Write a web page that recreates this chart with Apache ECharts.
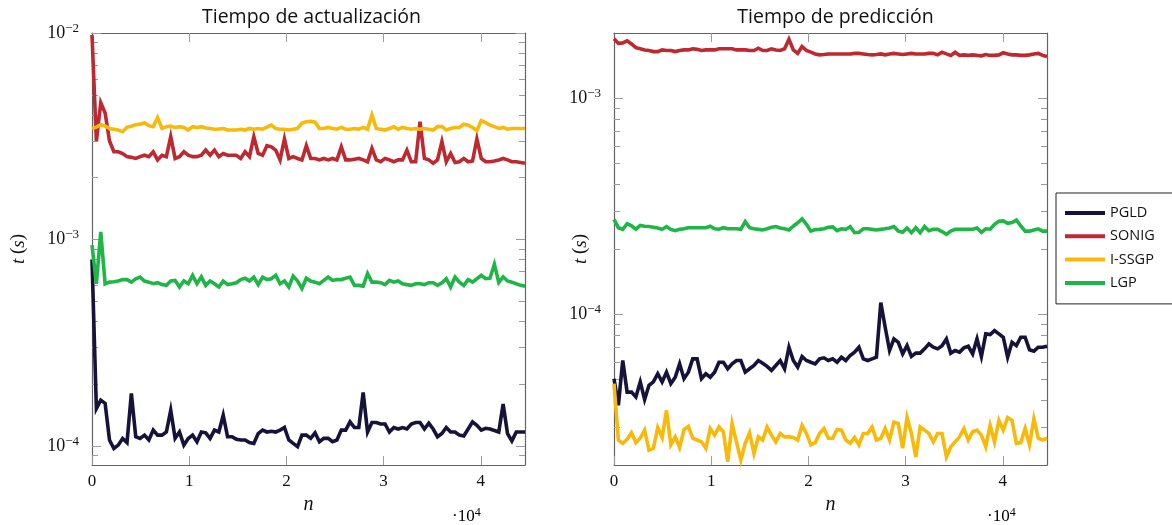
<!DOCTYPE html>
<html>
<head>
<meta charset="utf-8">
<title>Tiempos PGLD / SONIG / I-SSGP / LGP</title>
<script src="https://cdn.jsdelivr.net/npm/echarts@6/dist/echarts.min.js"></script>
<style>
  html, body { margin: 0; padding: 0; background: #ffffff; }
  #chart { width: 1172px; height: 525px; }
</style>
</head>
<body>
<div id="chart"></div>
<script>
// Samples are measured every N_STEP points; the axis ends at the last sample.
const N_STEP = 450;
const N_MAX = 44550;
const X_TICKS = [0, 10000, 20000, 30000, 40000];

const SERIES_NAMES = ['PGLD', 'SONIG', 'I-SSGP', 'LGP'];
const SERIES_COLORS = ['#16123a', '#be2830', '#f9b90a', '#1fb647'];

// Update time per sample, t(s)
const updPGLD = [
  8.0e-4, 1.52e-4, 1.67e-4, 1.61e-4, 1.07e-4, 9.74e-5, 1.011e-4, 1.089e-4, 1.04e-4, 1.80e-4,
  1.11e-4, 1.09e-4, 1.13e-4, 1.07e-4, 1.195e-4, 1.13e-4, 1.13e-4, 1.17e-4, 1.49e-4, 1.09e-4,
  1.17e-4, 1.011e-4, 1.089e-4, 1.13e-4, 1.05e-4, 1.17e-4, 1.16e-4, 1.09e-4, 1.195e-4, 1.17e-4,
  1.41e-4, 1.11e-4, 1.11e-4, 1.08e-4, 1.07e-4, 1.07e-4, 1.04e-4, 1.03e-4, 1.15e-4, 1.195e-4,
  1.17e-4, 1.18e-4, 1.17e-4, 1.195e-4, 1.23e-4, 1.07e-4, 1.03e-4, 9.93e-5, 1.13e-4, 1.13e-4,
  1.09e-4, 1.16e-4, 1.05e-4, 1.09e-4, 1.09e-4, 1.05e-4, 1.07e-4, 1.195e-4, 1.195e-4, 1.31e-4,
  1.23e-4, 1.23e-4, 1.82e-4, 1.17e-4, 1.30e-4, 1.30e-4, 1.28e-4, 1.28e-4, 1.17e-4, 1.23e-4,
  1.21e-4, 1.23e-4, 1.21e-4, 1.28e-4, 1.30e-4, 1.30e-4, 1.21e-4, 1.29e-4, 1.21e-4, 1.11e-4,
  1.15e-4, 1.23e-4, 1.17e-4, 1.17e-4, 1.13e-4, 1.12e-4, 1.21e-4, 1.31e-4, 1.26e-4, 1.195e-4,
  1.22e-4, 1.21e-4, 1.19e-4, 1.17e-4, 1.60e-4, 1.15e-4, 1.06e-4, 1.17e-4, 1.17e-4, 1.17e-4
];
const updSONIG = [
  9.8e-3, 3.0e-3, 4.6e-3, 4.1e-3, 3.0e-3, 2.66e-3, 2.66e-3, 2.61e-3, 2.52e-3, 2.50e-3,
  2.47e-3, 2.52e-3, 2.56e-3, 2.52e-3, 2.66e-3, 2.43e-3, 2.56e-3, 2.52e-3, 3.15e-3, 2.47e-3,
  2.52e-3, 2.66e-3, 2.56e-3, 2.52e-3, 2.52e-3, 2.56e-3, 2.71e-3, 2.56e-3, 2.71e-3, 2.52e-3,
  2.61e-3, 2.56e-3, 2.56e-3, 2.56e-3, 2.47e-3, 2.66e-3, 2.52e-3, 3.15e-3, 2.61e-3, 2.56e-3,
  2.85e-3, 2.81e-3, 2.71e-3, 2.43e-3, 3.07e-3, 2.47e-3, 2.52e-3, 2.47e-3, 2.43e-3, 2.85e-3,
  2.47e-3, 2.47e-3, 2.43e-3, 2.47e-3, 2.43e-3, 2.47e-3, 2.43e-3, 2.81e-3, 2.43e-3, 2.43e-3,
  2.45e-3, 2.47e-3, 2.43e-3, 2.38e-3, 2.76e-3, 2.43e-3, 2.38e-3, 2.47e-3, 2.43e-3, 2.38e-3,
  2.43e-3, 2.43e-3, 2.71e-3, 2.38e-3, 2.38e-3, 3.72e-3, 2.47e-3, 2.43e-3, 2.34e-3, 2.43e-3,
  2.98e-3, 2.38e-3, 2.61e-3, 2.36e-3, 2.38e-3, 2.47e-3, 2.38e-3, 2.40e-3, 3.07e-3, 2.47e-3,
  2.38e-3, 2.38e-3, 2.40e-3, 2.43e-3, 2.47e-3, 2.43e-3, 2.38e-3, 2.38e-3, 2.36e-3, 2.34e-3
];
const updISSGP = [
  3.45e-3, 3.50e-3, 3.60e-3, 3.55e-3, 3.45e-3, 3.42e-3, 3.39e-3, 3.33e-3, 3.50e-3, 3.54e-3,
  3.60e-3, 3.62e-3, 3.68e-3, 3.56e-3, 3.52e-3, 3.89e-3, 3.45e-3, 3.52e-3, 3.54e-3, 3.49e-3,
  3.52e-3, 3.49e-3, 3.39e-3, 3.52e-3, 3.49e-3, 3.52e-3, 3.47e-3, 3.45e-3, 3.42e-3, 3.43e-3,
  3.45e-3, 3.39e-3, 3.39e-3, 3.39e-3, 3.42e-3, 3.39e-3, 3.45e-3, 3.42e-3, 3.45e-3, 3.42e-3,
  3.50e-3, 3.58e-3, 3.45e-3, 3.42e-3, 3.42e-3, 3.39e-3, 3.42e-3, 3.45e-3, 3.66e-3, 3.72e-3,
  3.74e-3, 3.70e-3, 3.45e-3, 3.45e-3, 3.49e-3, 3.45e-3, 3.42e-3, 3.49e-3, 3.42e-3, 3.42e-3,
  3.45e-3, 3.42e-3, 3.49e-3, 3.42e-3, 4.01e-3, 3.45e-3, 3.42e-3, 3.39e-3, 3.45e-3, 3.52e-3,
  3.42e-3, 3.49e-3, 3.45e-3, 3.42e-3, 3.45e-3, 3.42e-3, 3.45e-3, 3.42e-3, 3.39e-3, 3.52e-3,
  3.52e-3, 3.39e-3, 3.45e-3, 3.49e-3, 3.49e-3, 3.62e-3, 3.58e-3, 3.49e-3, 3.37e-3, 3.76e-3,
  3.68e-3, 3.58e-3, 3.52e-3, 3.45e-3, 3.49e-3, 3.42e-3, 3.45e-3, 3.45e-3, 3.45e-3, 3.45e-3
];
const updLGP = [
  9.4e-4, 6.1e-4, 1.09e-3, 6.1e-4, 6.22e-4, 6.25e-4, 6.3e-4, 6.4e-4, 6.4e-4, 6.22e-4,
  6.46e-4, 6.58e-4, 6.3e-4, 6.22e-4, 6.11e-4, 6.18e-4, 6.05e-4, 6.0e-4, 6.3e-4, 6.34e-4,
  5.89e-4, 6.3e-4, 6.11e-4, 6.71e-4, 6.11e-4, 6.6e-4, 6.0e-4, 6.3e-4, 6.11e-4, 5.89e-4,
  6.3e-4, 6.05e-4, 6.11e-4, 6.18e-4, 6.4e-4, 6.5e-4, 6.3e-4, 6.58e-4, 6.05e-4, 6.58e-4,
  6.4e-4, 6.46e-4, 6.71e-4, 6.11e-4, 6.3e-4, 5.89e-4, 6.65e-4, 6.3e-4, 5.8e-4, 6.5e-4,
  6.3e-4, 6.22e-4, 6.11e-4, 6.34e-4, 6.58e-4, 6.34e-4, 6.4e-4, 6.4e-4, 6.5e-4, 6.58e-4,
  6.0e-4, 6.0e-4, 5.95e-4, 6.85e-4, 6.22e-4, 6.22e-4, 6.18e-4, 6.05e-4, 6.34e-4, 6.22e-4,
  6.3e-4, 6.11e-4, 6.05e-4, 6.0e-4, 6.11e-4, 6.11e-4, 6.05e-4, 6.18e-4, 6.18e-4, 6.0e-4,
  6.18e-4, 6.46e-4, 5.89e-4, 6.58e-4, 6.22e-4, 6.0e-4, 6.4e-4, 6.22e-4, 6.46e-4, 6.71e-4,
  6.46e-4, 6.5e-4, 7.6e-4, 6.2e-4, 6.6e-4, 6.3e-4, 6.22e-4, 6.11e-4, 6.0e-4, 5.95e-4
];

// Prediction time per sample, t(s)
const predPGLD = [
  5.02e-5, 3.78e-5, 6.09e-5, 4.35e-5, 4.35e-5, 4.13e-5, 4.85e-5, 4.02e-5, 4.68e-5, 4.85e-5,
  5.29e-5, 4.85e-5, 5.38e-5, 4.76e-5, 5.10e-5, 5.88e-5, 5.02e-5, 5.38e-5, 6.20e-5, 6.20e-5,
  5.02e-5, 5.29e-5, 5.10e-5, 5.38e-5, 5.98e-5, 5.98e-5, 5.58e-5, 5.88e-5, 6.09e-5, 6.09e-5,
  5.38e-5, 5.58e-5, 5.78e-5, 6.09e-5, 5.92e-5, 5.72e-5, 5.48e-5, 5.78e-5, 6.09e-5, 5.58e-5,
  7.02e-5, 6.09e-5, 5.68e-5, 6.36e-5, 6.09e-5, 5.98e-5, 5.88e-5, 6.20e-5, 6.27e-5, 6.09e-5,
  6.20e-5, 5.98e-5, 6.31e-5, 6.09e-5, 6.43e-5, 6.66e-5, 7.02e-5, 6.20e-5, 6.09e-5, 6.20e-5,
  6.31e-5, 1.13e-4, 8.68e-5, 6.78e-5, 7.67e-5, 7.40e-5, 6.54e-5, 7.14e-5, 6.36e-5, 6.59e-5,
  6.59e-5, 6.90e-5, 7.27e-5, 7.02e-5, 6.90e-5, 7.14e-5, 7.67e-5, 6.59e-5, 6.78e-5, 6.66e-5,
  6.97e-5, 7.09e-5, 6.54e-5, 7.67e-5, 6.36e-5, 8.09e-5, 8.03e-5, 8.38e-5, 8.09e-5, 7.81e-5,
  6.31e-5, 7.40e-5, 7.14e-5, 7.81e-5, 7.81e-5, 6.83e-5, 6.73e-5, 7.02e-5, 7.02e-5, 7.09e-5
];
const predSONIG = [
  1.88e-3, 1.79e-3, 1.80e-3, 1.84e-3, 1.78e-3, 1.71e-3, 1.69e-3, 1.67e-3, 1.66e-3, 1.64e-3,
  1.64e-3, 1.67e-3, 1.66e-3, 1.66e-3, 1.64e-3, 1.66e-3, 1.67e-3, 1.67e-3, 1.69e-3, 1.68e-3,
  1.66e-3, 1.67e-3, 1.67e-3, 1.67e-3, 1.69e-3, 1.69e-3, 1.69e-3, 1.69e-3, 1.67e-3, 1.67e-3,
  1.67e-3, 1.66e-3, 1.66e-3, 1.70e-3, 1.66e-3, 1.66e-3, 1.69e-3, 1.67e-3, 1.66e-3, 1.69e-3,
  1.87e-3, 1.67e-3, 1.61e-3, 1.73e-3, 1.66e-3, 1.63e-3, 1.60e-3, 1.584e-3, 1.59e-3, 1.60e-3,
  1.60e-3, 1.60e-3, 1.60e-3, 1.60e-3, 1.60e-3, 1.61e-3, 1.61e-3, 1.60e-3, 1.59e-3, 1.584e-3,
  1.59e-3, 1.60e-3, 1.584e-3, 1.60e-3, 1.61e-3, 1.60e-3, 1.59e-3, 1.60e-3, 1.61e-3, 1.60e-3,
  1.60e-3, 1.60e-3, 1.61e-3, 1.61e-3, 1.584e-3, 1.63e-3, 1.60e-3, 1.575e-3, 1.63e-3, 1.575e-3,
  1.584e-3, 1.575e-3, 1.584e-3, 1.575e-3, 1.568e-3, 1.59e-3, 1.575e-3, 1.575e-3, 1.584e-3, 1.62e-3,
  1.60e-3, 1.584e-3, 1.584e-3, 1.575e-3, 1.575e-3, 1.584e-3, 1.60e-3, 1.61e-3, 1.575e-3, 1.556e-3
];
const predISSGP = [
  4.76e-5, 2.61e-5, 2.52e-5, 2.63e-5, 2.82e-5, 2.54e-5, 2.66e-5, 2.90e-5, 2.34e-5, 2.39e-5,
  2.98e-5, 2.68e-5, 3.58e-5, 2.48e-5, 2.70e-5, 2.41e-5, 2.92e-5, 3.02e-5, 2.66e-5, 2.61e-5,
  2.56e-5, 2.39e-5, 2.95e-5, 2.75e-5, 3.00e-5, 2.85e-5, 2.07e-5, 3.11e-5, 2.56e-5, 2.11e-5,
  2.52e-5, 2.82e-5, 2.26e-5, 2.70e-5, 2.61e-5, 3.00e-5, 2.75e-5, 2.56e-5, 2.80e-5, 2.70e-5,
  2.70e-5, 2.68e-5, 2.61e-5, 3.05e-5, 2.80e-5, 2.48e-5, 2.54e-5, 2.80e-5, 2.95e-5, 2.66e-5,
  2.66e-5, 2.92e-5, 2.90e-5, 2.61e-5, 2.52e-5, 2.68e-5, 2.48e-5, 2.80e-5, 2.80e-5, 3.00e-5,
  2.61e-5, 2.66e-5, 2.95e-5, 2.61e-5, 3.16e-5, 3.11e-5, 2.39e-5, 3.32e-5, 2.80e-5, 2.18e-5,
  3.00e-5, 2.90e-5, 2.80e-5, 2.56e-5, 2.80e-5, 2.80e-5, 2.18e-5, 2.43e-5, 2.56e-5, 2.70e-5,
  2.95e-5, 2.61e-5, 2.85e-5, 2.90e-5, 2.75e-5, 2.43e-5, 3.05e-5, 2.56e-5, 3.22e-5, 2.90e-5,
  3.32e-5, 3.22e-5, 2.52e-5, 2.54e-5, 2.95e-5, 2.48e-5, 3.27e-5, 2.66e-5, 2.61e-5, 2.66e-5
];
const predLGP = [
  2.74e-4, 2.51e-4, 2.465e-4, 2.62e-4, 2.56e-4, 2.47e-4, 2.57e-4, 2.55e-4, 2.54e-4, 2.52e-4,
  2.50e-4, 2.465e-4, 2.54e-4, 2.465e-4, 2.43e-4, 2.465e-4, 2.48e-4, 2.51e-4, 2.51e-4, 2.51e-4,
  2.51e-4, 2.51e-4, 2.55e-4, 2.48e-4, 2.47e-4, 2.51e-4, 2.48e-4, 2.48e-4, 2.48e-4, 2.465e-4,
  2.68e-4, 2.51e-4, 2.48e-4, 2.465e-4, 2.45e-4, 2.48e-4, 2.52e-4, 2.54e-4, 2.50e-4, 2.48e-4,
  2.45e-4, 2.55e-4, 2.645e-4, 2.76e-4, 2.60e-4, 2.42e-4, 2.46e-4, 2.465e-4, 2.48e-4, 2.52e-4,
  2.53e-4, 2.43e-4, 2.48e-4, 2.465e-4, 2.54e-4, 2.38e-4, 2.39e-4, 2.48e-4, 2.48e-4, 2.465e-4,
  2.45e-4, 2.465e-4, 2.48e-4, 2.50e-4, 2.54e-4, 2.42e-4, 2.39e-4, 2.50e-4, 2.38e-4, 2.51e-4,
  2.38e-4, 2.54e-4, 2.43e-4, 2.465e-4, 2.465e-4, 2.41e-4, 2.34e-4, 2.42e-4, 2.465e-4, 2.465e-4,
  2.465e-4, 2.465e-4, 2.47e-4, 2.50e-4, 2.39e-4, 2.48e-4, 2.47e-4, 2.60e-4, 2.69e-4, 2.70e-4,
  2.63e-4, 2.65e-4, 2.72e-4, 2.56e-4, 2.42e-4, 2.42e-4, 2.45e-4, 2.48e-4, 2.42e-4, 2.42e-4
];

// Log-axis ranges and decade labels of both panels
const UPD_RANGE = [8.1e-5, 1e-2];
const PRED_RANGE = [2e-5, 2e-3];
const UPD_DECADES = [1e-4, 1e-3, 1e-2];
const PRED_DECADES = [1e-4, 1e-3];

const FONT_SERIF = '"Liberation Serif", "DejaVu Serif", serif';
const FONT_SANS = '"Open Sans", "DejaVu Sans", sans-serif';
const FRAME = '#646464';
const TICK = '#9c9c9c';
const TEXT = '#111111';

const GRIDS = [
  { left: 92, top: 33, width: 433, height: 432 },
  { left: 614, top: 33, width: 433, height: 432 }
];

// Minor ticks at 2..9 times each power of ten, strictly inside the range
function minorTicks(range) {
  const out = [];
  const lo = Math.floor(Math.log10(range[0]));
  const hi = Math.ceil(Math.log10(range[1]));
  for (let e = lo; e <= hi; e++) {
    for (let m = 2; m <= 9; m++) {
      const v = m * Math.pow(10, e);
      if (v > range[0] * 1.001 && v < range[1] * 0.999) out.push(v);
    }
  }
  return out;
}

function decadeLabel(v) {
  const e = Math.round(Math.log10(v));
  return '{m|10}{s|' + (e < 0 ? '\u2212' + (-e) : String(e)) + '}';
}

const powRich = {
  m: { fontFamily: FONT_SERIF, fontSize: 18, color: TEXT, lineHeight: 22 },
  s: { fontFamily: FONT_SERIF, fontSize: 13, color: TEXT, lineHeight: 12, verticalAlign: 'top' }
};

// One side of a log axis: a frame line plus inward ticks at the given values.
function logSide(gridIndex, range, position, tickValues, tickLen, withLine) {
  return {
    type: 'log', logBase: 10, gridIndex: gridIndex,
    min: range[0], max: range[1],
    position: position,
    splitLine: { show: false },
    axisLine: { show: true, onZero: false,
                lineStyle: { color: FRAME, width: 1.2, opacity: withLine ? 1 : 0 } },
    axisTick: { show: true, inside: true, length: tickLen, customValues: tickValues,
                lineStyle: { color: TICK, width: 1 } },
    axisLabel: { show: true, inside: false, customValues: tickValues, formatter: () => '' }
  };
}

function yAxesFor(gridIndex, range, decades) {
  const minors = minorTicks(range);
  const leftMajor = logSide(gridIndex, range, 'left', decades, 9, true);
  leftMajor.axisLabel = { show: true, customValues: decades, margin: 13, formatter: decadeLabel, rich: powRich };
  leftMajor.name = '{i|t} ({i|s})';
  leftMajor.nameLocation = 'middle';
  leftMajor.nameRotate = 90;
  leftMajor.nameMoveOverlap = false;
  leftMajor.nameGap = gridIndex === 0 ? 64 : 24;
  leftMajor.nameTextStyle = {
    fontFamily: FONT_SERIF, fontSize: 19, color: TEXT,
    rich: { i: { fontFamily: FONT_SERIF, fontSize: 19, fontStyle: 'italic', color: TEXT } }
  };
  return [
    leftMajor,
    logSide(gridIndex, range, 'left', minors, 6, false),
    logSide(gridIndex, range, 'right', decades, 9, true),
    logSide(gridIndex, range, 'right', minors, 6, false)
  ];
}

function xAxesFor(gridIndex) {
  const base = {
    type: 'value', gridIndex: gridIndex, min: 0, max: N_MAX,
    splitLine: { show: false },
    axisLine: { show: true, onZero: false, lineStyle: { color: FRAME, width: 1.2 } }
  };
  return [
    Object.assign({}, base, {
      position: 'bottom',
      axisTick: { show: true, inside: true, length: 9, customValues: X_TICKS,
                  lineStyle: { color: TICK, width: 1 } },
      axisLabel: {
        show: true, customValues: X_TICKS, margin: 8,
        fontFamily: FONT_SERIF, fontSize: 17, color: TEXT,
        formatter: v => String(Math.round(v / 10000))
      },
      name: 'n',
      nameLocation: 'middle',
      nameGap: 30,
      nameMoveOverlap: false,
      nameTextStyle: { fontFamily: FONT_SERIF, fontSize: 20, fontStyle: 'italic', color: TEXT }
    }),
    Object.assign({}, base, {
      position: 'top',
      axisTick: { show: true, inside: true, length: 9, customValues: X_TICKS.slice(1),
                  lineStyle: { color: TICK, width: 1 } },
      axisLabel: { show: false }
    })
  ];
}

function toPairs(values) {
  return values.map((v, i) => [i * N_STEP, v]);
}

function lineSeries(name, color, values, gridIndex) {
  return {
    type: 'line',
    name: name,
    xAxisIndex: gridIndex * 2,
    yAxisIndex: gridIndex * 4,
    data: toPairs(values),
    showSymbol: false,
    symbol: 'none',
    color: color,
    lineStyle: { color: color, width: 3.6, join: 'miter', miterLimit: 6 },
    emphasis: { disabled: true },
    animation: false
  };
}

const updateSets = [updPGLD, updSONIG, updISSGP, updLGP];
const predictSets = [predPGLD, predSONIG, predISSGP, predLGP];

const series = [];
SERIES_NAMES.forEach((name, k) => series.push(lineSeries(name, SERIES_COLORS[k], updateSets[k], 0)));
SERIES_NAMES.forEach((name, k) => series.push(lineSeries(name, SERIES_COLORS[k], predictSets[k], 1)));

const exponentNote = {
  d: { fontFamily: FONT_SERIF, fontSize: 17, color: TEXT, lineHeight: 20 },
  e: { fontFamily: FONT_SERIF, fontSize: 12, color: TEXT, lineHeight: 11, verticalAlign: 'top' }
};

const chart = echarts.init(document.getElementById('chart'), null, { renderer: 'canvas' });

chart.setOption({
  animation: false,
  backgroundColor: '#ffffff',
  title: [
    { text: 'Tiempo de actualización', left: GRIDS[0].left + GRIDS[0].width / 2 - 2, top: 2, textAlign: 'center',
      textStyle: { fontFamily: FONT_SANS, fontSize: 19.5, fontWeight: 'normal', color: TEXT } },
    { text: 'Tiempo de predicción', left: GRIDS[1].left + GRIDS[1].width / 2, top: 2, textAlign: 'center',
      textStyle: { fontFamily: FONT_SANS, fontSize: 19.5, fontWeight: 'normal', color: TEXT } }
  ],
  grid: GRIDS.map(g => Object.assign({ containLabel: false, outerBoundsMode: 'none' }, g)),
  xAxis: xAxesFor(0).concat(xAxesFor(1)),
  yAxis: yAxesFor(0, UPD_RANGE, UPD_DECADES).concat(yAxesFor(1, PRED_RANGE, PRED_DECADES)),
  legend: {
    orient: 'vertical',
    left: 1056,
    top: 193,
    padding: [12, 70, 13, 9],
    itemWidth: 40,
    itemHeight: 4,
    itemGap: 7.3,
    icon: 'rect',
    borderColor: '#222222',
    borderWidth: 1,
    borderRadius: 0,
    backgroundColor: '#ffffff',
    selectedMode: false,
    textStyle: { fontFamily: FONT_SANS, fontSize: 14.5, color: TEXT, lineHeight: 16 },
    data: SERIES_NAMES
  },
  graphic: [
    { type: 'text', left: 452, top: 507, style: { text: '{d|\u00b710}{e|4}', rich: exponentNote } },
    { type: 'text', left: 987, top: 507, style: { text: '{d|\u00b710}{e|4}', rich: exponentNote } }
  ],
  series: series
});
</script>
</body>
</html>
